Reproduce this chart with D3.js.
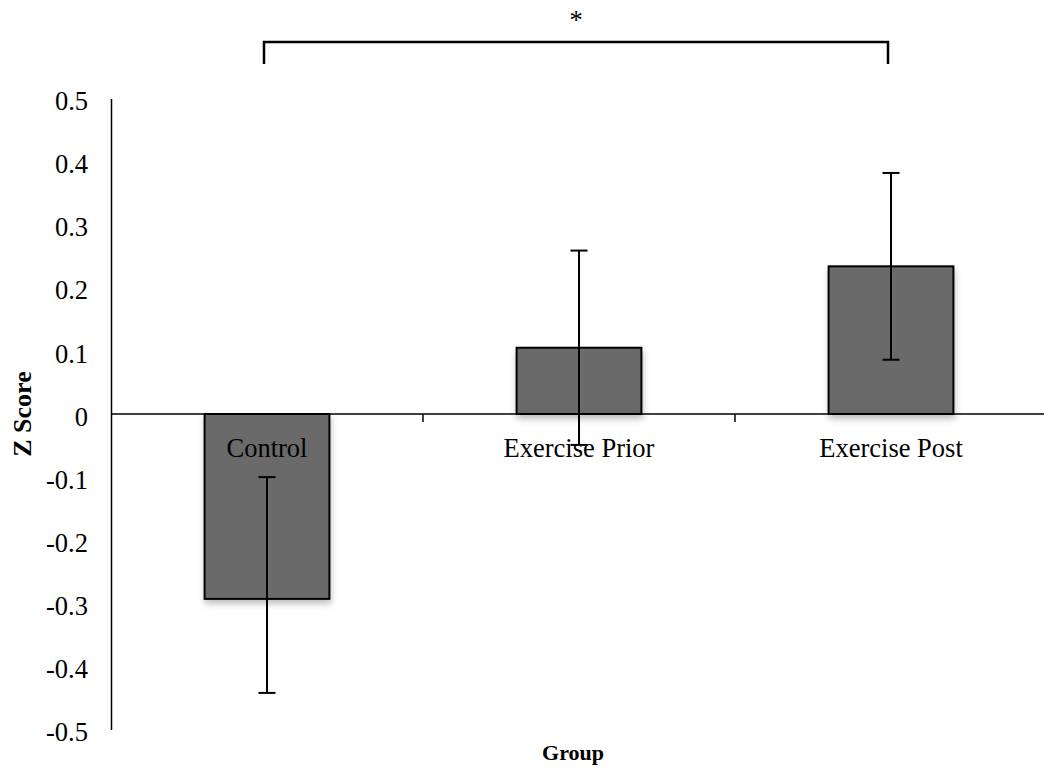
<!DOCTYPE html>
<html>
<head>
<meta charset="utf-8">
<script src="https://cdn.jsdelivr.net/npm/d3@7"></script>
<style>
    body { margin: 0; background: #fff; }
    svg text { font-family: "Liberation Serif", "Times New Roman", serif; fill: #000; }
</style>
</head>
<body>
<div id="chart"></div>
<script>
const groups = ["Control", "Exercise Prior", "Exercise Post"];
const means = [-0.293, 0.105, 0.234];
const errorsUp = [0.193, 0.154, 0.148];
const errorsDown = [0.149, 0.154, 0.148];
const yTicks = [0.5, 0.4, 0.3, 0.2, 0.1, 0, -0.1, -0.2, -0.3, -0.4, -0.5];
const significance = {from: "Control", to: "Exercise Post", label: "*"};

const width = 1044;
const height = 769;
const serif = "'Liberation Serif', 'Times New Roman', serif";

const svg = d3.select("#chart").append("svg")
    .attr("width", width)
    .attr("height", height);

// soft shadow under the bars, like the Excel original
const defs = svg.append("defs");
const shadow = defs.append("filter").attr("id", "shadow")
    .attr("x", "-10%").attr("y", "-10%").attr("width", "130%").attr("height", "130%");
shadow.append("feDropShadow")
    .attr("dx", 1).attr("dy", 4).attr("stdDeviation", 3)
    .attr("flood-color", "#000").attr("flood-opacity", 0.25);

const x = d3.scaleBand()
    .domain(groups)
    .range([111, 1047])
    .paddingInner(0.6)
    .paddingOuter(0.3);

const y = d3.scaleLinear()
    .domain([-0.5, 0.5])
    .range([729.5, 98.5]);

// bars
svg.append("g").selectAll("rect")
    .data(groups)
    .join("rect")
    .attr("x", d => x(d))
    .attr("width", x.bandwidth())
    .attr("y", (d, i) => y(Math.max(0, means[i])))
    .attr("height", (d, i) => Math.abs(y(means[i]) - y(0)))
    .attr("fill", "#6b6b6b")
    .attr("stroke", "#000")
    .attr("stroke-width", 2)
    .attr("filter", "url(#shadow)");

// y axis, no tick marks, plain hyphen for negatives
const yAxis = svg.append("g")
    .attr("transform", "translate(111,0)")
    .call(d3.axisLeft(y).tickValues(yTicks).tickSize(0).tickPadding(23)
        .tickFormat(d => d === 0 ? "0" : (d < 0 ? "-" : "") + Math.abs(d).toFixed(1)));
yAxis.attr("font-family", null);
yAxis.select(".domain").attr("stroke", "#000").attr("stroke-width", 1.5);
yAxis.selectAll("text")
    .style("font-family", serif)
    .style("font-size", "26.5px")
    .attr("dy", "0.42em");

// x axis through zero, with ticks between categories
const xAxisG = svg.append("g").attr("transform", `translate(0,${y(0)})`);
xAxisG.append("line")
    .attr("x1", 111).attr("x2", width)
    .attr("stroke", "#000").attr("stroke-width", 1.5);
const step = x.step();
xAxisG.selectAll("line.tick")
    .data(groups.slice(1))
    .join("line")
    .attr("class", "tick")
    .attr("x1", d => x(d) - x.paddingInner() * step / 2)
    .attr("x2", d => x(d) - x.paddingInner() * step / 2)
    .attr("y1", 0).attr("y2", 8)
    .attr("stroke", "#000").attr("stroke-width", 1.5);

// category labels just below the zero line
xAxisG.selectAll("text")
    .data(groups)
    .join("text")
    .attr("x", d => x(d) + x.bandwidth() / 2)
    .attr("y", 43)
    .attr("text-anchor", "middle")
    .style("font-size", "26.5px")
    .text(d => d);

// error bars
const cap = 8.5;
const err = svg.append("g").attr("stroke", "#000").attr("stroke-width", 2);
groups.forEach((g, i) => {
    const cx = x(g) + x.bandwidth() / 2;
    const lo = y(means[i] - errorsDown[i]);
    const hi = y(means[i] + errorsUp[i]);
    err.append("line").attr("x1", cx).attr("x2", cx).attr("y1", hi).attr("y2", lo);
    err.append("line").attr("x1", cx - cap).attr("x2", cx + cap).attr("y1", hi).attr("y2", hi);
    err.append("line").attr("x1", cx - cap).attr("x2", cx + cap).attr("y1", lo).attr("y2", lo);
});

// significance bracket
const bx1 = x(significance.from) + x.bandwidth() / 2 - 3;
const bx2 = x(significance.to) + x.bandwidth() / 2 - 3;
svg.append("path")
    .attr("d", `M${bx1},64V42H${bx2}V64`)
    .attr("fill", "none")
    .attr("stroke", "#000")
    .attr("stroke-width", 2.5);
svg.append("text")
    .attr("x", (bx1 + bx2) / 2)
    .attr("y", 29)
    .attr("text-anchor", "middle")
    .style("font-size", "26.5px")
    .text(significance.label);

// axis titles
svg.append("text")
    .attr("x", 573)
    .attr("y", 760)
    .attr("text-anchor", "middle")
    .attr("font-weight", "bold")
    .style("font-size", "22px")
    .text("Group");

svg.append("text")
    .attr("transform", "translate(31,414) rotate(-90)")
    .attr("text-anchor", "middle")
    .attr("font-weight", "bold")
    .style("font-size", "26px")
    .text("Z Score");
</script>
</body>
</html>
